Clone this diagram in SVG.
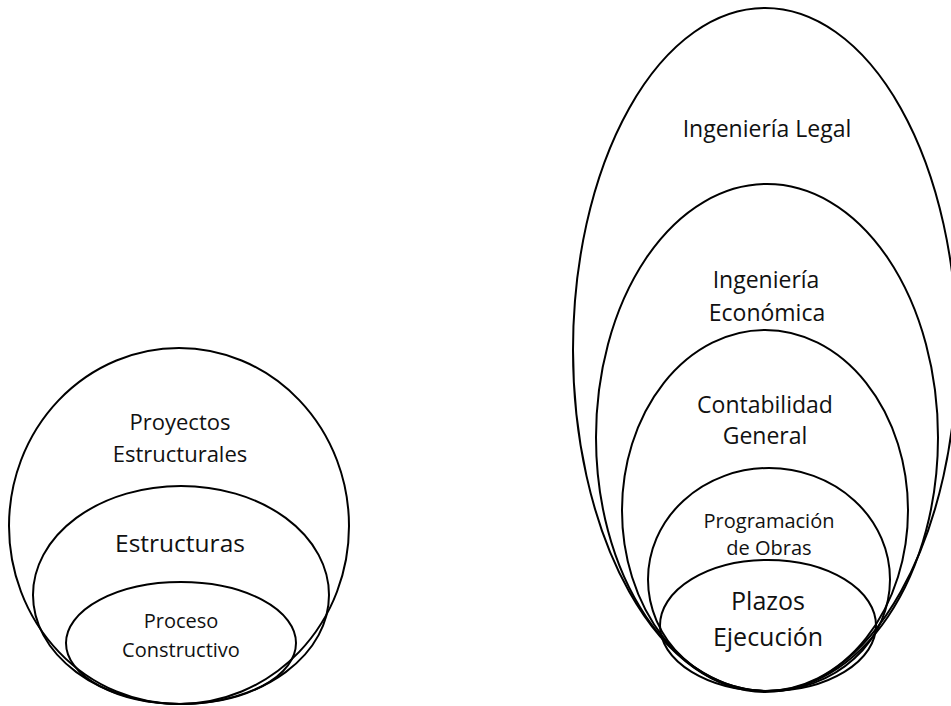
<svg xmlns="http://www.w3.org/2000/svg" width="951" height="706" viewBox="0 0 951 706">
<style>
.e{fill:none;stroke:#000;stroke-width:2}
text{font-family:"Open Sans","Noto Sans",sans-serif;fill:#111;text-anchor:middle}
</style>
<rect width="951" height="706" fill="#fff"/>
<g id="proyectos-estructurales">
<ellipse class="e" cx="179" cy="526" rx="170" ry="178"/>
<text x="180" y="430" font-size="22">Proyectos</text>
<text x="180" y="462" font-size="22">Estructurales</text>
</g>
<g id="estructuras">
<ellipse class="e" cx="181" cy="595" rx="148" ry="109"/>
<text x="180" y="552" font-size="24.5">Estructuras</text>
</g>
<g id="proceso-constructivo">
<ellipse class="e" cx="181" cy="643" rx="115" ry="61"/>
<text x="181" y="628" font-size="20">Proceso</text>
<text x="181" y="657" font-size="20">Constructivo</text>
</g>
<g id="ingenieria-legal">
<ellipse class="e" cx="765" cy="350" rx="192" ry="342"/>
<text x="767" y="137" font-size="23">Ingeniería Legal</text>
</g>
<g id="ingenieria-economica">
<ellipse class="e" cx="767" cy="437.5" rx="171" ry="253.5"/>
<text x="766" y="288" font-size="23">Ingeniería</text>
<text x="767" y="321" font-size="23">Económica</text>
</g>
<g id="contabilidad-general">
<ellipse class="e" cx="765" cy="510.5" rx="143" ry="180.5"/>
<text x="765" y="413" font-size="23">Contabilidad</text>
<text x="765" y="444" font-size="23">General</text>
</g>
<g id="programacion-obras">
<ellipse class="e" cx="769" cy="579.5" rx="121" ry="111.5"/>
<text x="769" y="528" font-size="20">Programación</text>
<text x="769" y="555" font-size="20">de Obras</text>
</g>
<g id="plazos-ejecucion">
<ellipse class="e" cx="768" cy="625.5" rx="108" ry="65.5"/>
<text x="768" y="610" font-size="25">Plazos</text>
<text x="768" y="646" font-size="25">Ejecución</text>
</g>
<g id="connectors"/>
</svg>
